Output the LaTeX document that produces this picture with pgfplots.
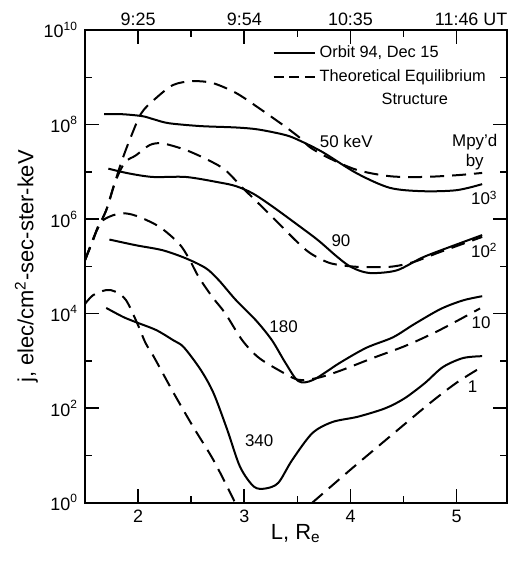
\documentclass[border=0pt]{standalone}
\usepackage{fontspec}
\setmainfont{Liberation Sans}
\usepackage{pgfplots}
\pgfplotsset{compat=1.18}

\pgfplotsset{
  orbit/.style={black, line width=1bp, smooth, tension=0.5},
  theory/.style={black, line width=1bp, smooth, tension=0.5, dash pattern=on 7bp off 4bp},
}
\tikzset{lbl/.style={font=\fontsize{8.5}{10}\selectfont, inner sep=0pt}}

\begin{document}
\begin{tikzpicture}[font=\fontsize{8.5}{10}\selectfont]
% keep the page at the reference proportions
\path (-42.5bp,-29.65bp) rectangle (215bp,251.35bp);

\begin{axis}[
  at={(0,0)}, anchor=south west,
  scale only axis, width=210.8bp, height=236.3bp,
  xmin=1.5, xmax=5.47,
  ymode=log, ymin=1, ymax=1e10,
  xtick={2,3,4,5}, xticklabels={2,3,4,5},
  minor xtick={2.5,3.5,4.5},
  ytick={1,1e2,1e4,1e6,1e8,1e10},
  yticklabels={10\textsuperscript{0},10\textsuperscript{2},10\textsuperscript{4},10\textsuperscript{6},10\textsuperscript{8},10\textsuperscript{10}},
  minor ytick={10,1e3,1e5,1e7,1e9},
  tick align=inside,
  major tick length=7bp, minor tick length=3.5bp,
  every tick/.style={black, line width=0.8bp},
  axis line style={line width=1bp},
  tick label style={font=\fontsize{9}{10}\selectfont},
  /pgf/number format/assume math mode=true,
  xlabel={L, R\textsubscript{e}},
  ylabel={j, elec/cm\textsuperscript{2}-sec-ster-keV},
  xlabel shift=-6bp, ylabel shift=-4bp,
  label style={font=\fontsize{11}{13}\selectfont},
  legend style={at={(0.43,0.985)}, anchor=north west, draw=none, fill=none,
    font=\fontsize{8.2}{10}\selectfont, row sep=0.5bp,
    cells={anchor=west}},
  legend image code/.code={\draw[#1] (0bp,0bp) -- (20.5bp,0bp);},
]
\addlegendimage{black, line width=1bp}
\addlegendentry{Orbit 94, Dec 15}
\addlegendimage{black, line width=1bp, dash pattern=on 5bp off 2.8bp}
\addlegendentry{Theoretical Equilibrium}
\addlegendimage{empty legend}
\addlegendentry{\hspace*{31bp}Structure}

% 50 keV
\addplot[orbit, forget plot] coordinates {
 (1.68,1.66e8)(1.85,1.66e8)(2.04,1.51e8)(2.15,1.29e8)(2.29,1.07e8)(2.59,9.3e7)
 (2.92,8.7e7)(3.13,7.9e7)(3.39,6.0e7)(3.53,4.5e7)(3.74,2.6e7)(4.06,9.3e6)
 (4.37,4.6e6)(4.68,3.9e6)(5.00,4.1e6)(5.24,5.5e6)};
\addplot[theory, forget plot] coordinates {
 (1.50,1.35e5)(1.60,5.1e5)(1.70,1.55e6)(1.78,5.8e6)(1.84,1.55e7)(1.92,4.7e7)
 (2.03,1.74e8)(2.16,3.5e8)(2.33,6.9e8)(2.51,8.3e8)(2.70,7.6e8)(2.92,4.7e8)
 (3.13,2.3e8)(3.39,8.9e7)(3.53,5.1e7)(3.62,3.3e7)(3.79,2.0e7)(4.06,1.10e7)
 (4.37,8.1e6)(4.68,7.8e6)(5.00,8.5e6)(5.24,9.5e6)};

% 90 keV
\addplot[orbit, forget plot] coordinates {
 (1.72,1.17e7)(1.91,9.3e6)(2.14,7.8e6)(2.45,7.8e6)(2.76,6.0e6)(2.92,5.0e6)
 (3.08,3.5e6)(3.27,1.82e6)(3.53,6.8e5)(3.70,3.5e5)(3.86,1.7e5)(3.98,1.05e5)
 (4.10,7.9e4)(4.22,7.2e4)(4.44,8.3e4)(4.68,1.55e5)(4.94,2.6e5)(5.24,4.6e5)};
\addplot[theory, forget plot] coordinates {
 (1.50,1.35e5)(1.60,5.1e5)(1.70,1.55e6)(1.78,5.8e6)(1.875,1.58e7)(1.98,2.24e7)
 (2.11,3.7e7)(2.23,4.0e7)(2.45,2.9e7)(2.66,1.78e7)(2.82,1.10e7)(2.98,4.7e6)
 (3.13,2.2e6)(3.32,8.3e5)(3.48,3.6e5)(3.62,1.91e5)(3.81,1.17e5)(4.06,9.8e4)
 (4.37,9.8e4)(4.59,1.23e5)(4.84,2.0e5)(5.24,4.2e5)};

% 180 keV
\addplot[orbit, forget plot] coordinates {
 (1.73,3.7e5)(1.98,2.8e5)(2.23,2.2e5)(2.45,1.48e5)(2.64,9.1e4)(2.76,5.1e4)
 (2.92,1.95e4)(3.11,7.2e3)(3.26,2.75e3)(3.39,891)(3.51,372)(3.65,398)
 (3.90,912)(4.15,1.9e3)(4.40,3.16e3)(4.60,6.0e3)(4.85,1.26e4)(5.06,1.91e4)(5.24,2.34e4)};
\addplot[theory, forget plot] coordinates {
 (1.50,1.35e5)(1.575,3.5e5)(1.64,8.3e5)(1.76,1.20e6)(1.885,1.32e6)(2.016,1.10e6)
 (2.204,6.8e5)(2.382,3.1e5)(2.476,1.51e5)(2.57,6.0e4)(2.70,2.24e4)(2.82,1.02e4)
 (2.98,2.75e3)(3.13,1.20e3)(3.32,646)(3.51,398)(3.69,437)(3.90,617)
 (4.21,1.15e3)(4.53,2.14e3)(4.84,4.5e3)(5.22,1.29e4)};

% 340 keV
\addplot[orbit, forget plot] coordinates {
 (1.70,1.32e4)(1.86,8.5e3)(1.98,6.6e3)(2.17,4.5e3)(2.33,2.75e3)(2.43,1.95e3)
 (2.59,646)(2.71,209)(2.84,34.7)(2.96,5.75)(3.09,2.19)(3.20,2.00)(3.32,2.63)
 (3.45,7.94)(3.64,29.5)(3.83,51)(4.07,66)(4.33,100)(4.51,162)(4.70,339)
 (4.87,741)(5.06,1.15e3)(5.24,1.26e3)};
\addplot[theory, forget plot] coordinates {
 (1.50,1.6e4)(1.575,2.45e4)(1.70,3.16e4)(1.79,2.9e4)(1.885,1.95e4)(1.98,7.2e3)
 (2.07,2.4e3)(2.15,1.20e3)(2.335,209)(2.52,39.8)(2.71,7.94)(2.90,1.15)(2.96,0.56)};
\addplot[theory, forget plot] coordinates {
 (3.48,0.50)(3.64,1.0)(4.00,5.0)(4.37,25)(4.75,129)(5.00,347)(5.22,708)};

% curve labels
\node[lbl] at (axis cs:3.96,4.5e7) {50 keV};
\node[lbl, align=center] at (axis cs:5.17,2.6e7) {Mpy’d\\by};
\node[lbl] at (axis cs:5.26,2.8e6) {10\textsuperscript{3}};
\node[lbl] at (axis cs:3.91,3.5e5) {90};
\node[lbl] at (axis cs:5.26,2.2e5) {10\textsuperscript{2}};
\node[lbl] at (axis cs:3.37,5.4e3) {180};
\node[lbl] at (axis cs:5.23,6.3e3) {10};
\node[lbl] at (axis cs:3.14,21) {340};
\node[lbl] at (axis cs:5.15,282) {1};
\end{axis}

% time labels along the top
\begin{axis}[
  at={(0,0)}, anchor=south west,
  scale only axis, width=210.8bp, height=236.3bp,
  xmin=1.5, xmax=5.47, ymin=0, ymax=1,
  axis x line*=top, axis y line=none,
  xtick={2,3,4,5},
  xticklabels={9:25,9:54,10:35,11:46\rlap{\ UT}},
  major tick length=0pt, minor tick num=0,
  axis line style={line width=1bp},
  tick label style={font=\fontsize{9}{10}\selectfont, yshift=-1.5bp},
  /pgf/number format/assume math mode=true,
]
\end{axis}
\end{tikzpicture}
\end{document}
